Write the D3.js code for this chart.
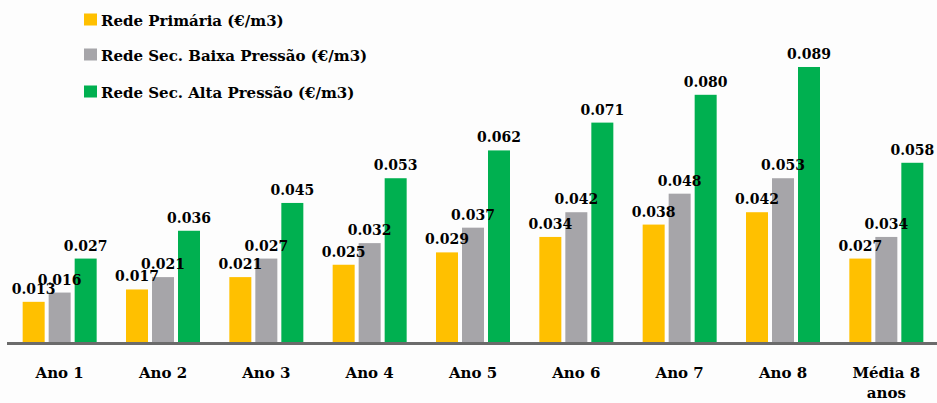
<!DOCTYPE html>
<html><head><meta charset="utf-8">
<script src="https://cdn.jsdelivr.net/npm/d3@7"></script>
<style>
html,body{margin:0;padding:0;background:#fdfdfd;}
svg{display:block;}
</style></head>
<body>
<svg id="c" width="937" height="403"></svg>
<script>
const categories = ["Ano 1","Ano 2","Ano 3","Ano 4","Ano 5","Ano 6","Ano 7","Ano 8","Média 8\nanos"];
const seriesNames = ["Rede Primária (€/m3)","Rede Sec. Baixa Pressão (€/m3)","Rede Sec. Alta Pressão (€/m3)"];
const primaria = [0.013,0.017,0.021,0.025,0.029,0.034,0.038,0.042,0.027];
const baixa = [0.016,0.021,0.027,0.032,0.037,0.042,0.048,0.053,0.034];
const alta = [0.027,0.036,0.045,0.053,0.062,0.071,0.080,0.089,0.058];
const colors = ["#FFC000","#A6A5A9","#00B050"];
const seriesValues = [primaria, baixa, alta];
const FONT = "'DejaVu Serif', 'Liberation Serif', serif";

const svg = d3.select("#c");
const x = d3.scaleBand().domain(categories).range([8,938]).paddingInner(0).paddingOuter(0);
const y = d3.scaleLinear().domain([0,0.1]).range([342,33]);
const barW = 22, barStep = 26;

const g = svg.append("g");
seriesValues.forEach((vals, si) => {
  const off = (si - 1) * barStep - barW/2;
  g.selectAll(".b"+si).data(vals).join("rect")
    .attr("x",(d,i)=>x(categories[i]) + x.bandwidth()/2 + off)
    .attr("y",d=>y(d))
    .attr("width",barW)
    .attr("height",d=>y(0)-y(d))
    .attr("fill",colors[si]);
});
seriesValues.forEach((vals, si) => {
  const off = (si - 1) * barStep;
  g.selectAll(".l"+si).data(vals).join("text")
    .attr("x",(d,i)=>x(categories[i]) + x.bandwidth()/2 + off)
    .attr("y",d=>y(d)-8)
    .attr("text-anchor","middle")
    .attr("font-family",FONT).attr("font-weight","bold").attr("font-size",14)
    .text(d=>d3.format(".3f")(d));
});

// axis line
const axis = d3.axisBottom(x).tickSize(0).tickFormat("");
const ax = svg.append("g").attr("transform","translate(0,343.5)").call(axis);
ax.select(".domain").attr("stroke","#6b6b6b").attr("stroke-width",3).attr("d","M7,0H937");

// category labels
categories.forEach(c=>{
  const lines = c.split("\n");
  const cx = x(c)+x.bandwidth()/2;
  const t = svg.append("text").attr("text-anchor","middle")
    .attr("font-family",FONT).attr("font-weight","bold").attr("font-size",15)
    .attr("x", cx).attr("y", 378);
  lines.forEach((ln,k)=>t.append("tspan").attr("x",cx).attr("dy",k?20:0).text(ln));
});

// legend
const legY = [19.5, 54.5, 91.5];
seriesNames.forEach((n,i)=>{
  svg.append("rect").attr("x",84).attr("y",legY[i]-6).attr("width",13).attr("height",12).attr("fill",colors[i]);
  svg.append("text").attr("x",101).attr("y",legY[i]+6)
    .attr("font-family",FONT).attr("font-weight","bold").attr("font-size",15).text(n);
});
</script>
</body></html>
